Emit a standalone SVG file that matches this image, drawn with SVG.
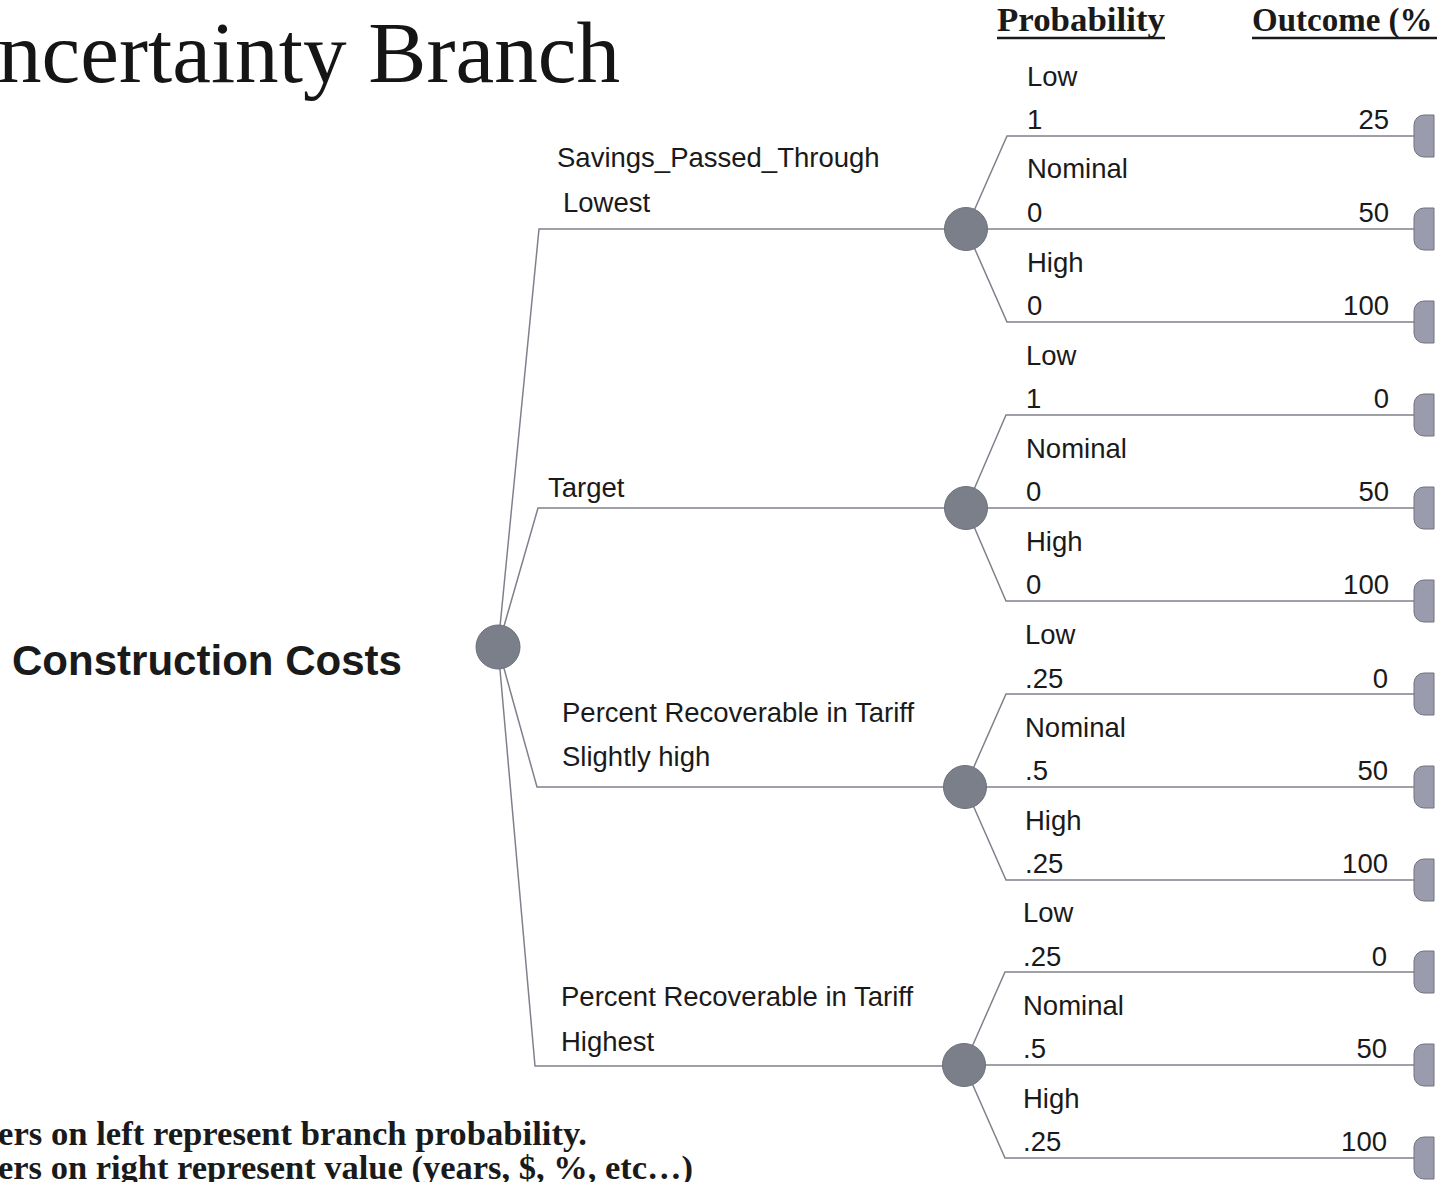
<svg xmlns="http://www.w3.org/2000/svg" width="1453" height="1182" viewBox="0 0 1453 1182">
<style>
.lbl{font-family:"Liberation Sans",Arial,sans-serif;font-size:27.5px;fill:#1a1a1a}
.r{text-anchor:end}
.conn{stroke:#80808c;stroke-width:1.5;fill:none}
.chance{fill:#7b7f89;stroke:#6c707a;stroke-width:1}
.term{fill:#9a9cae;stroke:#70727f;stroke-width:1}
.hdr{font-family:"Liberation Serif","Times New Roman",serif;font-weight:bold;font-size:33px;fill:#1a1a1a}
.note{font-family:"Liberation Serif","Times New Roman",serif;font-weight:bold;font-size:34px;fill:#1a1a1a}
</style>
<defs>
<clipPath id="page"><rect x="0" y="0" width="1437" height="1182"/></clipPath>
</defs>
<rect x="0" y="0" width="1453" height="1182" fill="#ffffff"/>

<g id="title">
<text x="-2" y="82" font-family="'Liberation Serif','Times New Roman',serif" font-size="87" textLength="622" lengthAdjust="spacingAndGlyphs" fill="#151515">ncertainty Branch</text>
</g>

<g id="headers" clip-path="url(#page)">
<text class="hdr" x="997" y="31" textLength="168" lengthAdjust="spacingAndGlyphs">Probability</text>
<line x1="997" y1="38" x2="1165" y2="38" stroke="#1a1a1a" stroke-width="2.5"/>
<text class="hdr" x="1252" y="31" font-size="34">Outcome (%</text>
<line x1="1252" y1="38" x2="1437" y2="38" stroke="#1a1a1a" stroke-width="2.5"/>
</g>

<g id="connectors">
<path class="conn" d="M498,647 L539,229 H966"/>
<path class="conn" d="M498,647 L538,508 H966"/>
<path class="conn" d="M498,647 L537,787 H965"/>
<path class="conn" d="M498,647 L535,1066 H964"/>
<path class="conn" d="M966,229 L1007,136 H1414"/>
<path class="conn" d="M966,229 H1414"/>
<path class="conn" d="M966,229 L1007,322 H1414"/>
<path class="conn" d="M966,508 L1006,415 H1414"/>
<path class="conn" d="M966,508 H1414"/>
<path class="conn" d="M966,508 L1006,601 H1414"/>
<path class="conn" d="M965,787 L1006,694 H1414"/>
<path class="conn" d="M965,787 H1414"/>
<path class="conn" d="M965,787 L1006,880 H1414"/>
<path class="conn" d="M964,1065 L1005,972 H1414"/>
<path class="conn" d="M964,1065 H1414"/>
<path class="conn" d="M964,1065 L1005,1158 H1414"/>
</g>

<g id="root">
<circle class="chance" cx="498" cy="647" r="22"/>
<text x="12" y="675" font-family="'Liberation Sans',Arial,sans-serif" font-weight="bold" font-size="42" textLength="390" lengthAdjust="spacingAndGlyphs" fill="#1a1a1a">Construction Costs</text>
</g>

<g id="branch-lowest">
<text class="lbl" x="557" y="167">Savings_Passed_Through</text>
<text class="lbl" x="563" y="212">Lowest</text>
<circle class="chance" cx="966" cy="229" r="21.5"/>
</g>

<g id="branch-target">
<text class="lbl" x="548" y="497">Target</text>
<circle class="chance" cx="966" cy="508" r="21.5"/>
</g>

<g id="branch-slightly-high">
<text class="lbl" x="562" y="722">Percent Recoverable in Tariff</text>
<text class="lbl" x="562" y="766">Slightly high</text>
<circle class="chance" cx="965" cy="787" r="21.5"/>
</g>

<g id="branch-highest">
<text class="lbl" x="561" y="1006">Percent Recoverable in Tariff</text>
<text class="lbl" x="561" y="1051">Highest</text>
<circle class="chance" cx="964" cy="1065" r="21.5"/>
</g>

<g id="n1-low">
<text class="lbl" x="1027" y="86">Low</text>
<text class="lbl" x="1027" y="129">1</text>
<text class="lbl r" x="1389" y="129">25</text>
<path class="term" d="M1434,115 H1424 A10,10 0 0 0 1414,125 V147 A10,10 0 0 0 1424,157 H1434 Z"/>
</g>
<g id="n1-nominal">
<text class="lbl" x="1027" y="178">Nominal</text>
<text class="lbl" x="1027" y="222">0</text>
<text class="lbl r" x="1389" y="222">50</text>
<path class="term" d="M1434,208 H1424 A10,10 0 0 0 1414,218 V240 A10,10 0 0 0 1424,250 H1434 Z"/>
</g>
<g id="n1-high">
<text class="lbl" x="1027" y="272">High</text>
<text class="lbl" x="1027" y="315">0</text>
<text class="lbl r" x="1389" y="315">100</text>
<path class="term" d="M1434,301 H1424 A10,10 0 0 0 1414,311 V333 A10,10 0 0 0 1424,343 H1434 Z"/>
</g>

<g id="n2-low">
<text class="lbl" x="1026" y="365">Low</text>
<text class="lbl" x="1026" y="408">1</text>
<text class="lbl r" x="1389" y="408">0</text>
<path class="term" d="M1434,394 H1424 A10,10 0 0 0 1414,404 V426 A10,10 0 0 0 1424,436 H1434 Z"/>
</g>
<g id="n2-nominal">
<text class="lbl" x="1026" y="458">Nominal</text>
<text class="lbl" x="1026" y="501">0</text>
<text class="lbl r" x="1389" y="501">50</text>
<path class="term" d="M1434,487 H1424 A10,10 0 0 0 1414,497 V519 A10,10 0 0 0 1424,529 H1434 Z"/>
</g>
<g id="n2-high">
<text class="lbl" x="1026" y="551">High</text>
<text class="lbl" x="1026" y="594">0</text>
<text class="lbl r" x="1389" y="594">100</text>
<path class="term" d="M1434,580 H1424 A10,10 0 0 0 1414,590 V612 A10,10 0 0 0 1424,622 H1434 Z"/>
</g>

<g id="n3-low">
<text class="lbl" x="1025" y="644">Low</text>
<text class="lbl" x="1025" y="688">.25</text>
<text class="lbl r" x="1388" y="688">0</text>
<path class="term" d="M1434,673 H1424 A10,10 0 0 0 1414,683 V705 A10,10 0 0 0 1424,715 H1434 Z"/>
</g>
<g id="n3-nominal">
<text class="lbl" x="1025" y="737">Nominal</text>
<text class="lbl" x="1025" y="780">.5</text>
<text class="lbl r" x="1388" y="780">50</text>
<path class="term" d="M1434,766 H1424 A10,10 0 0 0 1414,776 V798 A10,10 0 0 0 1424,808 H1434 Z"/>
</g>
<g id="n3-high">
<text class="lbl" x="1025" y="830">High</text>
<text class="lbl" x="1025" y="873">.25</text>
<text class="lbl r" x="1388" y="873">100</text>
<path class="term" d="M1434,859 H1424 A10,10 0 0 0 1414,869 V891 A10,10 0 0 0 1424,901 H1434 Z"/>
</g>

<g id="n4-low">
<text class="lbl" x="1023" y="922">Low</text>
<text class="lbl" x="1023" y="966">.25</text>
<text class="lbl r" x="1387" y="966">0</text>
<path class="term" d="M1434,951 H1424 A10,10 0 0 0 1414,961 V983 A10,10 0 0 0 1424,993 H1434 Z"/>
</g>
<g id="n4-nominal">
<text class="lbl" x="1023" y="1015">Nominal</text>
<text class="lbl" x="1023" y="1058">.5</text>
<text class="lbl r" x="1387" y="1058">50</text>
<path class="term" d="M1434,1044 H1424 A10,10 0 0 0 1414,1054 V1076 A10,10 0 0 0 1424,1086 H1434 Z"/>
</g>
<g id="n4-high">
<text class="lbl" x="1023" y="1108">High</text>
<text class="lbl" x="1023" y="1151">.25</text>
<text class="lbl r" x="1387" y="1151">100</text>
<path class="term" d="M1434,1137 H1424 A10,10 0 0 0 1414,1147 V1169 A10,10 0 0 0 1424,1179 H1434 Z"/>
</g>

<g id="notes">
<text class="note" x="-2" y="1145" textLength="589" lengthAdjust="spacingAndGlyphs">ers on left represent branch probability.</text>
<text class="note" x="-2" y="1179" textLength="695" lengthAdjust="spacingAndGlyphs">ers on right represent value (years, $, %, etc…)</text>
</g>
</svg>
